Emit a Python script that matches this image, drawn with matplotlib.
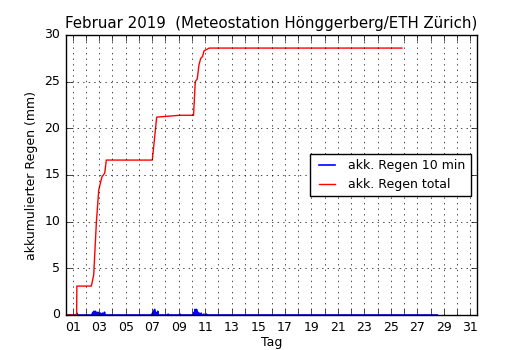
import numpy as np
import matplotlib
matplotlib.use('Agg')
import matplotlib.pyplot as plt

# accumulated rain (mm), breakpoints in days since 1 Feb
total_days = [1.0, 1.80, 1.82, 2.91, 3.09, 3.29, 3.47, 3.71, 3.92, 4.04,
              7.51, 7.64, 7.84, 9.60, 10.62, 10.66, 10.75, 10.90, 11.03,
              11.16, 11.30, 11.41, 11.81, 26.34]
total_mm = [0.0, 0.0, 3.1, 3.1, 4.3, 9.9, 13.4, 14.8, 15.2, 16.6,
            16.6, 18.4, 21.2, 21.4, 21.4, 22.5, 25.0, 25.3, 26.8,
            27.5, 27.7, 28.3, 28.6, 28.6]

# 10 min rain events (days since 1 Feb, mm); zero elsewhere
event_days = [1.81, 3.00, 3.05, 3.10, 3.15, 3.22, 3.30, 3.40, 3.50, 3.60,
              3.75, 3.90, 7.52, 7.58, 7.62, 7.68, 7.75, 7.85, 7.92, 8.70,
              9.60, 10.65, 10.72, 10.78, 10.85, 10.95, 11.05, 11.20, 11.40,
              11.60]
event_mm = [0.2, 0.2, 0.3, 0.4, 0.3, 0.4, 0.2, 0.3, 0.2, 0.2,
            0.2, 0.3, 0.2, 0.3, 0.4, 0.6, 0.3, 0.2, 0.4, 0.1,
            0.1, 0.3, 0.6, 0.4, 0.6, 0.3, 0.2, 0.2, 0.1,
            0.1]

day_labels = ['%02d' % d if d % 2 == 1 else '' for d in range(1, 32)]

plt.style.use('classic')
fig = plt.figure(figsize=(5.3, 3.5), dpi=100, facecolor='white')
ax = fig.add_axes([66 / 530, 35 / 350, 411 / 530, 280 / 350])

# 10 minute sampling over the month
t = 1 + np.arange(28 * 144 + 1) / 144.0
rain10 = np.zeros_like(t)
for d, mm in zip(event_days, event_mm):
    rain10[int(round((d - 1) * 144))] = mm

ax.plot(t, rain10, color='b', lw=1.2, label='akk. Regen 10 min')
ax.plot(total_days, total_mm, color='r', lw=1, label='akk. Regen total')

ax.set_xlim(1, 32)
ax.set_ylim(0, 30)
ax.set_xticks(np.arange(1, 32) + 0.5)
ax.set_xticklabels(day_labels)
ax.set_yticks(np.arange(0, 31, 5))
ax.tick_params(labelsize=9)
ax.grid(True, color='k', ls=':', lw=0.5)
ax.set_xlabel('Tag', fontsize=9, labelpad=2)
ax.set_ylabel('akkumulierter Regen (mm)', fontsize=9)
ax.set_title('Februar 2019  (Meteostation Hönggerberg/ETH Zürich)', fontsize=10.8)
ax.legend(loc='center right', fontsize=9, handlelength=1.9)

fig.savefig('out.png', dpi=100, facecolor='white')
